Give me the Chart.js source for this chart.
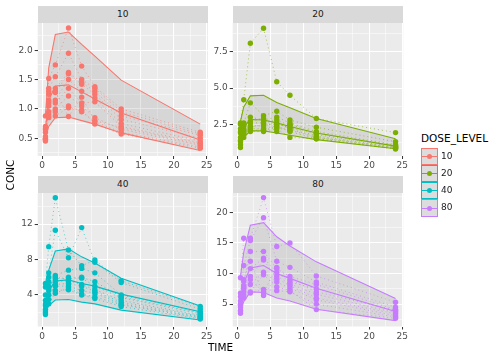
<!DOCTYPE html>
<html>
<head>
<meta charset="utf-8">
<script src="https://cdn.jsdelivr.net/npm/chart.js@4/dist/chart.umd.min.js"></script>
<style>
html,body{margin:0;padding:0;background:#fff;}
body{width:500px;height:357px;position:relative;overflow:hidden;font-family:'DejaVu Sans',sans-serif;}
canvas{position:absolute;}
.strip{position:absolute;background:#D9D9D9;color:#1A1A1A;font-size:9px;text-align:center;height:16.7px;line-height:16.7px;}
.title{position:absolute;color:#000;font-size:10.5px;white-space:nowrap;}
.key{position:absolute;left:420.7px;width:17.3px;height:17.3px;box-sizing:border-box;border:1px solid;background:#DCDCDC;}
.key .ln{position:absolute;left:0;right:0;top:7.15px;height:1px;}
.key .dt{position:absolute;left:5.65px;top:5.15px;width:5px;height:5px;border-radius:50%;}
.klab{position:absolute;left:441px;font-size:9px;color:#1A1A1A;height:17.3px;line-height:17.3px;}
</style>
</head>
<body>
<canvas id="c10" width="215" height="172" style="left:0;top:0;width:215px;height:172px"></canvas>
<canvas id="c20" width="215" height="172" style="left:195px;top:0;width:215px;height:172px"></canvas>
<canvas id="c40" width="215" height="172" style="left:0;top:170px;width:215px;height:172px"></canvas>
<canvas id="c80" width="215" height="172" style="left:195px;top:170px;width:215px;height:172px"></canvas>

<div class="strip" style="left:37.7px;top:6px;width:170.3px">10</div>
<div class="strip" style="left:232.7px;top:6px;width:170.6px">20</div>
<div class="strip" style="left:37.7px;top:176.3px;width:170.3px">40</div>
<div class="strip" style="left:232.7px;top:176.3px;width:170.6px">80</div>

<div class="title" style="left:202px;top:341px;width:37px;text-align:center">TIME</div>
<div class="title" style="left:-10px;top:169px;width:40px;text-align:center;transform:rotate(-90deg)">CONC</div>

<div class="title" style="left:421px;top:132px">DOSE_LEVEL</div>
<div id="legend"></div>

<script>
// ---------- data ----------
const times = [0.5, 1, 2, 4, 6, 8, 12, 24];
const doseLevels = ['10', '20', '40', '80'];
const doseColors = ['#F8766D', '#7CAE00', '#00BFC4', '#C77CFF'];

const xMajorTicks = [0, 5, 10, 15, 20, 25];
const xTickLabels = ['0', '5', '10', '15', '20', '25'];

// dose 10
const lower10  = [0.50, 0.70, 0.85, 0.86, 0.80, 0.74, 0.59, 0.29];
const median10 = [0.66, 1.15, 1.39, 1.41, 1.29, 1.17, 0.93, 0.47];
const upper10  = [0.88, 1.70, 2.27, 2.31, 2.10, 1.90, 1.49, 0.74];
const subjects10 = [
  [0.88, 1.52, 1.75, 2.38, 1.73, 1.38, 1.00, 0.60],
  [0.70, 1.35, 1.55, 1.95, 1.50, 1.35, 0.95, 0.57],
  [0.64, 1.30, 1.35, 1.62, 1.45, 1.30, 0.88, 0.55],
  [0.53, 1.25, 1.28, 1.60, 1.42, 1.25, 0.82, 0.50],
  [0.47, 1.10, 1.15, 1.50, 1.30, 1.18, 0.75, 0.45],
  [0.45, 1.05, 1.10, 1.35, 1.10, 1.12, 0.70, 0.42],
  [0.60, 0.95, 1.00, 1.22, 1.05, 0.85, 0.65, 0.38],
  [0.50, 0.90, 0.95, 1.05, 0.95, 0.78, 0.60, 0.35],
  [0.48, 0.85, 0.88, 1.02, 0.98, 0.74, 0.57, 0.33],
  [0.66, 1.15, 1.30, 0.87, 1.20, 0.80, 0.68, 0.40]
];
const yTicks10 = [0.5, 1.0, 1.5, 2.0];
const yLabels10 = ['0.5', '1.0', '1.5', '2.0'];

// dose 20
const lower20  = [1.05, 1.60, 2.05, 2.05, 1.90, 1.75, 1.45, 0.82];
const median20 = [1.70, 2.30, 2.83, 2.80, 2.60, 2.35, 1.90, 1.00];
const upper20  = [2.70, 3.70, 4.46, 4.50, 4.00, 3.65, 2.90, 1.51];
const subjects20 = [
  [2.60, 4.20, 8.08, 9.12, 5.43, 4.50, 2.90, 1.93],
  [2.50, 2.60, 3.98, 3.10, 3.40, 2.80, 2.30, 1.30],
  [2.20, 2.40, 3.00, 2.80, 3.00, 2.60, 2.00, 1.10],
  [1.90, 2.20, 2.60, 2.60, 2.80, 2.40, 1.80, 1.00],
  [1.60, 2.00, 2.40, 2.40, 2.60, 2.20, 1.60, 0.90],
  [1.30, 1.80, 2.20, 2.20, 2.40, 2.00, 1.50, 0.85],
  [1.10, 1.60, 2.00, 2.00, 2.20, 1.60, 1.50, 0.80],
  [0.90, 2.50, 2.70, 2.90, 2.00, 2.50, 1.90, 1.05],
  [1.40, 1.90, 2.30, 2.50, 2.50, 2.30, 1.70, 0.95],
  [2.00, 2.10, 2.10, 2.10, 2.30, 2.10, 1.60, 0.90]
];
const yTicks20 = [2.5, 5.0, 7.5];
const yLabels20 = ['2.5', '5.0', '7.5'];

// dose 40
const lower40  = [1.95, 2.80, 3.44, 3.50, 3.20, 3.00, 2.30, 1.18];
const median40 = [3.30, 4.50, 5.58, 5.70, 5.30, 5.00, 4.10, 2.12];
const upper40  = [5.30, 6.80, 8.96, 9.20, 8.30, 7.60, 5.90, 2.76];
const subjects40 = [
  [5.30, 9.45, 14.96, 9.07, 7.30, 7.94, 5.60, 2.70],
  [4.90, 6.50, 11.30, 8.20, 11.60, 7.70, 5.40, 2.40],
  [3.40, 6.00, 6.20, 6.80, 7.00, 6.50, 4.00, 2.10],
  [2.80, 5.00, 5.80, 6.00, 5.90, 5.00, 3.70, 1.90],
  [2.40, 4.50, 5.50, 5.60, 5.20, 4.60, 3.40, 1.70],
  [2.00, 4.00, 5.00, 5.00, 4.50, 4.20, 3.00, 1.50],
  [1.80, 3.50, 4.50, 4.60, 4.00, 3.60, 2.70, 1.30],
  [3.00, 3.00, 4.20, 4.80, 4.10, 3.80, 2.90, 1.40],
  [4.00, 4.80, 6.00, 5.80, 6.00, 5.50, 3.80, 2.00],
  [2.20, 5.50, 5.20, 5.30, 5.00, 4.40, 3.20, 1.60]
];
const yTicks40 = [4, 8, 12];
const yLabels40 = ['4', '8', '12'];

// dose 80
const lower80  = [3.80, 5.40, 7.00, 6.90, 6.00, 5.50, 4.15, 2.30];
const median80 = [5.80, 8.50, 10.90, 11.30, 10.00, 9.20, 7.60, 3.80];
const upper80  = [9.50, 13.50, 17.90, 18.30, 16.00, 14.50, 11.90, 5.90];
const subjects80 = [
  [9.30, 15.75, 15.75, 22.40, 14.40, 15.00, 9.60, 5.30],
  [6.80, 11.30, 15.40, 19.10, 12.00, 11.00, 8.60, 4.50],
  [6.20, 8.70, 13.60, 13.60, 10.80, 9.50, 8.20, 4.10],
  [5.50, 8.00, 10.80, 12.50, 10.20, 8.60, 7.50, 3.80],
  [5.00, 7.50, 9.50, 12.20, 9.20, 8.00, 6.00, 3.40],
  [4.50, 7.00, 8.20, 10.20, 8.60, 7.60, 5.70, 3.10],
  [4.00, 6.50, 7.00, 9.80, 7.80, 7.20, 4.10, 2.70],
  [3.50, 6.00, 6.80, 7.40, 7.20, 7.00, 5.00, 2.90],
  [3.80, 9.00, 12.00, 6.40, 9.60, 8.30, 6.60, 3.60],
  [4.80, 7.80, 9.00, 6.90, 11.00, 9.00, 7.00, 4.00]
];
const yTicks80 = [5, 10, 15, 20];
const yLabels80 = ['5', '10', '15', '20'];

// ---------- helpers ----------
Chart.defaults.font.family = "'DejaVu Sans', sans-serif";

function withMinor(major, min, max) {
  const step = major[1] - major[0];
  const out = [];
  for (let i = 0; i < major.length; i++) {
    const m = major[i];
    if (i === 0 && m - step / 2 >= min) out.push({value: m - step / 2, mj: false});
    if (m >= min && m <= max) out.push({value: m, mj: true});
    if (m + step / 2 <= max) out.push({value: m + step / 2, mj: false});
  }
  return out;
}

function xy(vals) { return vals.map((v, i) => ({x: times[i], y: v})); }

function hexA(hex, a) {
  const n = parseInt(hex.slice(1), 16);
  return `rgba(${(n >> 16) & 255},${(n >> 8) & 255},${n & 255},${a})`;
}

const panelBg = {
  id: 'panelBg',
  beforeDraw(chart) {
    const {ctx, chartArea: a} = chart;
    ctx.save();
    ctx.fillStyle = '#EBEBEB';
    ctx.fillRect(a.left, a.top, a.right - a.left, a.bottom - a.top);
    ctx.restore();
  }
};

function makePanel(id, color, lower, median, upper, subjects, yMin, yMax, yMajor, yLabels, padTop, padRight, xHeight) {
  const xMin = -0.675, xMax = 25.175;
  const datasets = [
    {data: xy(lower), borderColor: color, borderWidth: 1.1, pointRadius: 0, fill: false},
    {data: xy(upper), borderColor: color, borderWidth: 1.1, pointRadius: 0, fill: '-1', backgroundColor: 'rgba(128,128,128,0.2)'},
    {data: xy(median), borderColor: color, borderWidth: 1.1, pointRadius: 0, fill: false}
  ];
  subjects.forEach(s => datasets.push({
    data: xy(s), borderColor: hexA(color, 0.7), borderWidth: 0.9, borderDash: [1, 3],
    pointRadius: 2.7, pointBackgroundColor: color, pointBorderWidth: 0, fill: false
  }));
  const gridOpts = {
    color: '#FFFFFF',
    lineWidth: c => (c.tick && c.tick.mj) ? 1.07 : 0.53,
    drawTicks: true, tickLength: 3, tickWidth: 1,
    tickColor: c => (c.tick && c.tick.mj) ? '#333333' : 'rgba(0,0,0,0)'
  };
  new Chart(document.getElementById(id), {
    type: 'line',
    data: {datasets},
    plugins: [panelBg],
    options: {
      responsive: false, animation: false, devicePixelRatio: 1, events: [],
      layout: {padding: {top: padTop, right: padRight, left: 0, bottom: 0}},
      plugins: {legend: {display: false}, tooltip: {enabled: false}, filler: {drawTime: 'beforeDatasetsDraw'}},
      scales: {
        x: {
          type: 'linear', min: xMin, max: xMax,
          afterBuildTicks: s => { s.ticks = withMinor(xMajorTicks, xMin, xMax); },
          afterFit: s => { s.height = xHeight; },
          border: {display: false},
          grid: gridOpts,
          ticks: {
            autoSkip: false, maxRotation: 0, minRotation: 0, padding: 1.5, color: '#4D4D4D', font: {size: 9},
            callback: v => { const k = xMajorTicks.findIndex(m => Math.abs(m - v) < 1e-9); return k >= 0 ? xTickLabels[k] : ''; }
          }
        },
        y: {
          type: 'linear', min: yMin, max: yMax,
          afterBuildTicks: s => { s.ticks = withMinor(yMajor, yMin, yMax); },
          afterFit: s => { s.width = 37.7; },
          border: {display: false},
          grid: gridOpts,
          ticks: {
            autoSkip: false, padding: 2, color: '#4D4D4D', font: {size: 9},
            callback: v => { const k = yMajor.findIndex(m => Math.abs(m - v) < 1e-9); return k >= 0 ? yLabels[k] : ''; }
          }
        }
      }
    }
  });
}

makePanel('c10', doseColors[0], lower10, median10, upper10, subjects10, 0.196, 2.47, yTicks10, yLabels10, 22.7, 7, 16);
makePanel('c20', doseColors[1], lower20, median20, upper20, subjects20, 0.32, 9.5, yTicks20, yLabels20, 22.7, 6.7, 16);
makePanel('c40', doseColors[2], lower40, median40, upper40, subjects40, 0.45, 15.5, yTicks40, yLabels40, 23, 7, 15.5);
makePanel('c80', doseColors[3], lower80, median80, upper80, subjects80, 1.34, 23.15, yTicks80, yLabels80, 23, 6.7, 15.5);

// legend
const leg = document.getElementById('legend');
doseLevels.forEach((d, i) => {
  const top = 147.5 + 17.3 * i;
  const c = doseColors[i];
  leg.insertAdjacentHTML('beforeend',
    `<div class="key" style="top:${top}px;border-color:${c}"><div class="ln" style="background:${c}"></div><div class="dt" style="background:${c}"></div></div>` +
    `<div class="klab" style="top:${top}px">${d}</div>`);
});
</script>
</body>
</html>
